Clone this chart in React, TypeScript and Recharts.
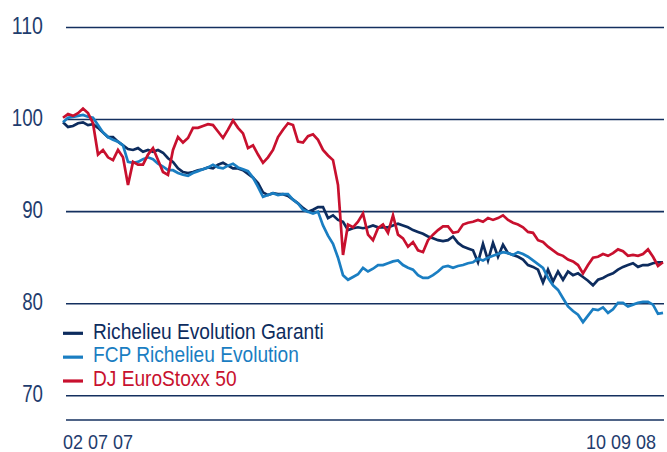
import React from 'react';
import { LineChart, Line, XAxis, YAxis, ReferenceLine, Legend } from 'recharts';

// Index values (base 100 on 02 07 07) at regular intervals
const garanti = [
  99.7, 99.2, 99.3, 99.6, 99.7, 99.4, 99.5, 99.1, 98.6, 98.1,
  98.1, 97.6, 97.2, 96.8, 96.7, 96.9, 96.5, 96.7, 96.5, 96.7,
  96.4, 95.8, 95.4, 94.7, 94.3, 94.2, 94.3, 94.5, 94.6, 94.8,
  94.7, 95.1, 95.3, 95.0, 94.7, 94.7, 94.5, 94.1, 93.7, 93.1,
  92.1, 91.8, 92.0, 91.9, 91.9, 91.7, 91.3, 90.9, 90.4, 90.0,
  90.2, 90.5, 90.5, 89.3, 89.6, 89.1, 88.9, 88.0, 88.2, 88.3,
  88.2, 88.3, 88.5, 88.3, 88.3, 88.3, 88.5, 88.7, 88.5, 88.3,
  88.0, 87.8, 87.6, 87.3, 87.1, 86.9, 86.8, 86.9, 87.3, 86.6,
  86.2, 86.0, 85.8, 84.5, 86.5, 84.7, 86.6, 85.1, 86.4, 85.5,
  85.3, 85.1, 84.8, 84.2, 84.0, 83.7, 82.3, 83.7, 82.4, 83.5,
  82.6, 83.5, 83.1, 83.3, 82.9, 82.5, 82.0, 82.6, 82.8, 83.1,
  83.3, 83.7, 84.0, 84.2, 84.4, 84.0, 84.2, 84.2, 84.4, 84.5,
  84.5,
];

const fcp = [
  99.7, 100.2, 100.3, 100.4, 100.5, 100.3, 100.2, 99.4, 98.6, 98.1,
  97.8, 97.6, 97.2, 95.4, 95.3, 95.4, 95.7, 95.9, 95.7, 95.2,
  94.9, 94.5, 94.5, 94.2, 94.0, 93.9, 94.2, 94.4, 94.6, 94.8,
  95.1, 94.8, 94.7, 95.0, 95.2, 94.8, 94.6, 94.4, 93.7, 92.7,
  91.6, 91.8, 92.0, 91.8, 91.9, 91.9, 91.3, 90.9, 90.2, 90.0,
  89.8, 90.0, 88.5, 87.4, 86.5, 85.0, 83.1, 82.6, 82.9, 83.2,
  83.9, 83.5, 83.8, 84.2, 84.2, 84.4, 84.6, 84.7, 84.2, 83.9,
  83.7, 83.1, 82.8, 82.8, 83.1, 83.5, 84.0, 84.1, 83.9, 84.1,
  84.2, 84.4, 84.5, 84.9, 84.7, 85.0, 85.2, 85.4, 85.6, 85.5,
  85.3, 85.6, 85.4, 85.1, 84.7, 84.3, 83.9, 82.8, 82.0, 81.5,
  80.6, 79.7, 79.2, 78.8, 78.0, 78.7, 79.4, 79.3, 79.6, 79.0,
  79.4, 80.1, 80.1, 79.7, 79.9, 80.1, 80.2, 80.2, 79.9, 78.9,
  79.0,
];

const euroStoxx = [
  100.2, 100.6, 100.4, 100.7, 101.2, 100.7, 99.6, 96.2, 96.7, 95.9,
  95.6, 96.7, 95.9, 92.9, 95.4, 95.1, 95.1, 96.2, 96.9, 95.6,
  94.3, 94.0, 96.7, 98.1, 97.5, 98.0, 99.1, 99.1, 99.3, 99.5,
  99.4, 98.7, 98.0, 98.9, 99.9, 99.1, 98.5, 96.9, 97.2, 96.2,
  95.3, 95.9, 96.7, 98.1, 98.9, 99.6, 99.4, 97.6, 97.5, 98.2,
  98.4, 97.8, 96.7, 96.1, 95.6, 92.9, 85.3, 88.6, 88.3, 88.9,
  89.8, 87.5, 86.9, 88.2, 88.6, 87.7, 89.6, 87.5, 87.1, 86.2,
  86.7, 85.8, 85.6, 86.9, 87.5, 88.0, 88.4, 88.4, 87.7, 87.8,
  88.6, 88.8, 88.9, 89.1, 88.9, 89.3, 89.1, 89.3, 89.6, 89.1,
  88.8, 88.6, 88.3, 87.8, 87.7, 86.9, 86.7, 86.2, 85.8, 85.4,
  85.2, 84.8, 84.6, 84.2, 83.3, 84.2, 85.0, 85.1, 85.4, 85.2,
  85.5, 85.9, 85.7, 85.2, 85.3, 85.2, 85.4, 85.9, 85.1, 84.1,
  84.5,
];

const seriesNames = ['Richelieu Evolution Garanti', 'FCP Richelieu Evolution', 'DJ EuroStoxx 50'];
const seriesKeys = ['garanti', 'fcp', 'euroStoxx'];
const seriesColors = ['#0d2c5e', '#1a7ec2', '#c8102e'];
const xTickLabels = ['02 07 07', '10 09 08'];
const yTicks = [70, 80, 90, 100, 110];
const yMin = 67.37;
const yMax = 110;

const tradingDays = garanti.map((_, i) => i);
const data = tradingDays.map((d, i) => ({
  day: d,
  garanti: garanti[i],
  fcp: fcp[i],
  euroStoxx: euroStoxx[i],
}));
const lastDay = tradingDays[tradingDays.length - 1];
const gridStart = 0.6;
const gridEnd = lastDay + 0.2;

const FONT = "'Liberation Sans', Arial, sans-serif";
const TEXT = '#1f3d6e';
const GRID = '#14305f';

const YTick = (props: any) => {
  const { y, payload } = props;
  const label = String(payload.value);
  return (
    <text
      x={43}
      y={y + 6.5}
      textAnchor="end"
      fontFamily={FONT}
      fontSize={23}
      fill={TEXT}
      textLength={label.length * 10.4}
      lengthAdjust="spacingAndGlyphs"
    >
      {label}
    </text>
  );
};

const XTick = (props: any) => {
  const { x, payload } = props;
  const first = payload.value === 0;
  return (
    <text
      x={first ? x : x + 1}
      y={449}
      textAnchor={first ? 'start' : 'end'}
      fontFamily={FONT}
      fontSize={21}
      fill={TEXT}
      textLength={70}
      lengthAdjust="spacingAndGlyphs"
    >
      {first ? xTickLabels[0] : xTickLabels[1]}
    </text>
  );
};

const LegendContent = () => (
  <svg width={667} height={452} style={{ display: 'block' }}>
    {seriesNames.map((name, i) => {
      const y = 333.3 + i * 23.85;
      return (
        <g key={name}>
          <line x1={63} x2={83} y1={y} y2={y} stroke={seriesColors[i]} strokeWidth={3.2} />
          <text
            transform={`translate(93, ${y + 5.2}) scale(0.89, 1)`}
            fontFamily={FONT}
            fontSize={21.5}
            fill={seriesColors[i]}
          >
            {name}
          </text>
        </g>
      );
    })}
  </svg>
);

export default function App() {
  return (
    <div style={{ position: 'absolute', left: 0, top: 0, width: 667, height: 452, background: '#fff' }}>
      <LineChart
        width={667}
        height={452}
        data={data}
        margin={{ top: 27.5, right: 4, left: 0, bottom: 0 }}
      >
        <XAxis
          dataKey="day"
          type="number"
          domain={[0, lastDay]}
          ticks={[0, lastDay]}
          tick={<XTick />}
          tickLine={false}
          axisLine={false}
          height={32}
        />
        <YAxis
          type="number"
          domain={[yMin, yMax]}
          ticks={yTicks}
          tick={<YTick />}
          axisLine={false}
          tickLine={false}
          width={63}
          allowDataOverflow
        />
        {[...yTicks, yMin].map((v) => (
          <ReferenceLine
            key={v}
            segment={[{ x: gridStart, y: v }, { x: gridEnd, y: v }]}
            stroke={GRID}
            strokeWidth={1.6}
            ifOverflow="visible"
          />
        ))}
        <Legend
          layout="vertical"
          align="center"
          verticalAlign="middle"
          content={<LegendContent />}
          wrapperStyle={{ position: 'absolute', left: 0, top: 0, width: 667, height: 452, pointerEvents: 'none' }}
        />
        {seriesKeys.map((k, i) => (
          <Line
            key={k}
            type="linear"
            dataKey={k}
            name={seriesNames[i]}
            stroke={seriesColors[i]}
            strokeWidth={2.7}
            dot={false}
            isAnimationActive={false}
          />
        ))}
      </LineChart>
    </div>
  );
}
